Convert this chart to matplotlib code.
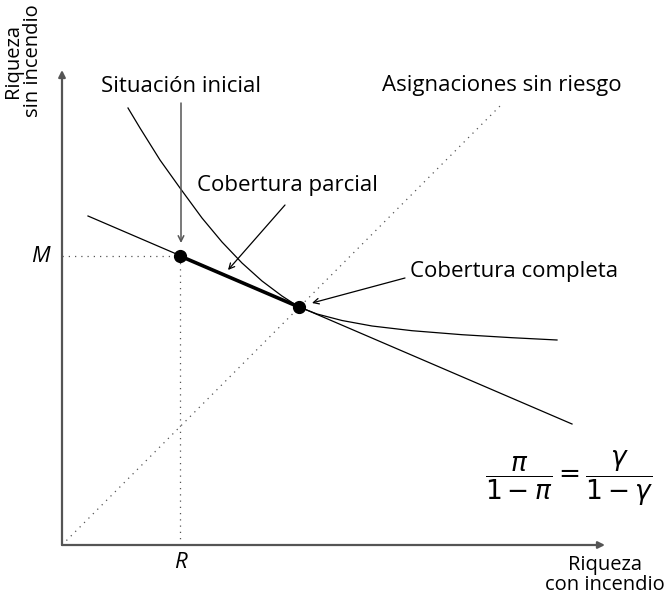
import matplotlib.pyplot as plt

plt.rcParams["font.family"] = ["Open Sans", "DejaVu Sans"]
plt.rcParams["mathtext.fontset"] = "dejavusans"

# ── diagram values (units: wealth without fire / with fire) ── #
R = 118
M = 289
full_cover = (237, 238)

budget_x = [26, 510]
budget_y = [329, 121]

safe_x = [0, 441]
safe_y = [0, 442]

indiff_x = [66, 78, 98, 118, 140, 160, 180, 200, 220, 237,
            255, 280, 310, 350, 400, 450, 495]
indiff_y = [437, 417, 385, 357, 327, 303, 282, 264, 249, 238,
            231, 224.5, 219, 214.3, 210.3, 207.3, 205]

x_max = 543
y_max = 475

fig = plt.figure(figsize=(6.72, 5.98), dpi=100)
ax = fig.add_axes([0, 0, 1, 1])
ax.set_xlim(-62, 610)
ax.set_ylim(-53, 545)
ax.axis("off")

# axes with arrows
ax.annotate("", xy=(x_max, 0), xytext=(0, 0),
            arrowprops=dict(arrowstyle="-|>", color="#555555", lw=1.6,
                            mutation_scale=10, shrinkA=0, shrinkB=0))
ax.annotate("", xy=(0, y_max), xytext=(0, 0),
            arrowprops=dict(arrowstyle="-|>", color="#555555", lw=1.6,
                            mutation_scale=10, shrinkA=0, shrinkB=0))

# certainty line and guides
dot = (0, (1, 4))
ax.plot(safe_x, safe_y, color="#555555", lw=0.9, ls=dot)
ax.plot([0, R], [M, M], color="#555555", lw=0.9, ls=dot)
ax.plot([R, R], [0, M], color="#555555", lw=0.9, ls=dot)

# budget line, indifference curve
ax.plot(budget_x, budget_y, color="black", lw=0.9)
ax.plot(indiff_x, indiff_y, color="black", lw=0.9)
ax.plot([R, full_cover[0]], [M, full_cover[1]], color="black", lw=2.6,
        solid_capstyle="round")
ax.plot([R, full_cover[0]], [M, full_cover[1]], "o", color="black", ms=8.5)

# labels with arrows
fs = 16
ax.text(R + 1, 458, "Situación inicial", fontsize=fs, ha="center", va="center")
ax.annotate("", xy=(R + 1, 302), xytext=(R + 1, 442),
            arrowprops=dict(arrowstyle="->", color="#555555", lw=1.1,
                            shrinkA=0, shrinkB=0))
ax.text(225, 360, "Cobertura parcial", fontsize=fs, ha="center", va="center")
ax.annotate("", xy=(166, 275), xytext=(223, 340),
            arrowprops=dict(arrowstyle="->", color="black", lw=0.9,
                            shrinkA=0, shrinkB=0))
ax.text(348, 274, "Cobertura completa", fontsize=fs, ha="left", va="center")
ax.annotate("", xy=(250, 242), xytext=(343, 267),
            arrowprops=dict(arrowstyle="->", color="black", lw=0.9,
                            shrinkA=0, shrinkB=0))
ax.text(440, 460, "Asignaciones sin riesgo", fontsize=fs, ha="center", va="center")

ax.text(-12, M, "M", fontsize=16, style="italic", ha="right", va="center")
ax.text(R, -18, "R", fontsize=16, style="italic", ha="center", va="center")

ax.text(-39, 484, "Riqueza\nsin incendio", fontsize=14.5, rotation=90,
        ha="center", va="center", linespacing=0.95)
ax.text(543, -30, "Riqueza\ncon incendio", fontsize=14.5, ha="center",
        va="center", linespacing=0.95)

ax.text(507, 67, r"$\dfrac{\pi}{1-\pi}=\dfrac{\gamma}{1-\gamma}$", fontsize=19,
        ha="center", va="center")

fig.savefig("out.png", dpi=100)
